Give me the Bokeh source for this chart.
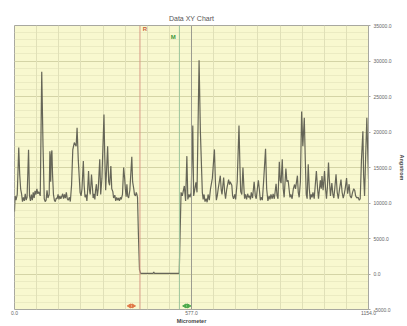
from bokeh.plotting import figure
from bokeh.models import (Range1d, FixedTicker, Grid, Span, BoxAnnotation,
                          CustomJSTickFormatter)
from bokeh.embed import file_html
from bokeh.resources import INLINE
from bokeh.core.properties import value

# Profile scan: lateral position (micrometer) vs. step height (angstrom)
position_um = [
    0, 2, 5, 9, 13.8, 17, 20, 23, 26, 29, 32, 35, 38, 41, 45.8, 49, 52, 55, 58, 61,
    64, 67, 70, 73, 76, 79, 84, 88.8, 93, 97, 100, 103, 106, 109, 113, 115.4, 118, 120, 122, 124,
    127, 130, 133, 136, 139, 142, 145, 148, 151, 154, 157, 160, 163, 166, 169, 172, 175, 179, 182, 186,
    190, 195, 201, 204, 208, 213.8, 217, 220, 224.4, 227, 230, 233, 236, 238, 241.4, 244, 246.8, 249, 251, 254,
    256.4, 259, 262, 264, 267, 270, 273, 277.9, 281, 285, 291.7, 294, 297.2, 300, 303.6, 307, 310, 314.1, 317, 320.6,
    323, 327, 330, 333, 336, 339, 342, 345, 348, 352, 355.8, 359, 361.3, 364, 366.4, 369, 372, 376, 382.4, 385,
    388.8, 391, 394.3, 397, 399, 401, 404, 407.5, 411, 452, 454, 456, 537, 540, 543, 547, 553.6, 557.8, 561.9, 565,
    569, 572, 576, 581.2, 584, 588, 591.4, 595, 601.7, 606, 612.3, 615, 618, 621, 625, 628, 631, 635,
    639, 645, 651.7, 655, 658, 661, 664, 670.9, 674, 676.4, 681.8, 685, 688, 692, 697.9, 701, 703, 708.4, 711, 714,
    718, 721, 726, 731.8, 735, 737.3, 741, 744.7, 748, 750, 753, 756.5, 760, 763, 766, 769, 772, 776, 781.2, 785,
    788, 795, 798, 801.4, 805, 808, 812, 818.4, 822, 826, 830, 833, 836, 840, 843, 847, 852.7, 856, 859, 863.3,
    866, 869, 872.9, 876, 879, 884.7, 888, 892, 895, 898, 901, 905, 909, 913, 916, 922.3, 925, 928, 932, 936,
    940, 944.7, 948, 951, 954, 957.5, 961, 964, 967, 970, 973, 977, 984.1, 988, 991, 997, 1000, 1002.4, 1006, 1010.7,
    1014, 1017, 1020, 1023.6, 1026, 1030, 1034.5, 1038, 1041, 1044, 1048.2, 1052, 1055.6, 1059, 1064.3, 1068, 1071.6, 1075, 1078, 1082.5,
    1086, 1090.8, 1094, 1098, 1102, 1105.9, 1109, 1112, 1116, 1120, 1124, 1127, 1131, 1135.7, 1138, 1141.2, 1145, 1148.6, 1151, 1154,
]
height_A = [
    8800, 11000, 10400, 11200, 17800, 14000, 12000, 11300, 10200, 10800, 10300, 11300, 10400, 10800, 17500, 11000, 10300, 11200, 10400, 11500,
    10700, 11700, 11200, 12000, 11300, 11600, 11000, 28500, 18000, 10600, 10200, 10400, 11800, 10700, 11200, 17300, 13000, 16800, 17400, 14000,
    11200, 10400, 10200, 10700, 10600, 11200, 10500, 11000, 10600, 10900, 11300, 10600, 11200, 10700, 11500, 10600, 10400, 10800, 10200, 12500,
    17500, 18500, 18000, 20600, 16000, 11500, 11000, 12000, 15900, 12500, 10800, 11200, 10300, 11500, 14500, 12000, 11200, 12500, 14000, 12200,
    10700, 11300, 10500, 11700, 12650, 11000, 12000, 16150, 11200, 13500, 22450, 17000, 11800, 14500, 18000, 13000, 12500, 15200, 12000, 11600,
    10700, 11100, 10300, 10800, 10400, 10700, 10300, 10800, 10500, 11200, 15000, 13500, 12000, 10900, 12650, 11000, 10700, 11800, 16500, 13000,
    12000, 11200, 11000, 11500, 11200, 10800, 5500, 600, 100, 100, 300, 100, 100, 6000, 11500, 11000, 12400, 10300, 16600, 10500,
    11200, 10800, 11500, 20900, 11000, 12000, 12900, 11500, 30100, 20000, 11500, 10500, 11200, 10200, 10600, 10100, 11200, 10400,
    12000, 13500, 17550, 13000, 10400, 11000, 12000, 13850, 11800, 11200, 13600, 11600, 10600, 12000, 13300, 12600, 13000, 12500, 11000, 10600,
    11200, 10500, 13000, 20900, 15000, 11600, 11200, 15000, 12000, 10600, 11200, 10500, 11300, 10800, 11000, 10500, 11500, 10700, 13000, 11000,
    10600, 13200, 12000, 10400, 10800, 10400, 13000, 17650, 12000, 10300, 11000, 10500, 11200, 10600, 11300, 10600, 12700, 11000, 10600, 15800,
    13200, 12800, 16150, 12000, 10800, 14850, 13000, 13200, 12000, 10800, 11200, 10600, 12000, 12600, 12000, 13850, 11500, 10800, 13000, 22900,
    18000, 22000, 16000, 11200, 10600, 15450, 12000, 10500, 11200, 10800, 11500, 10600, 14500, 12000, 10600, 13200, 12000, 13800, 11800, 14500,
    12000, 10600, 12200, 15700, 13500, 11000, 12800, 11200, 10700, 12000, 14050, 11500, 10600, 11800, 13300, 11500, 10700, 11300, 12000, 13500,
    11300, 12650, 11000, 10700, 11500, 12000, 11800, 11000, 10700, 10800, 10400, 10600, 16000, 20100, 14000, 11000, 17000, 22000, 18000, 13400,
]

# Axis extents and tick labels
x_min, x_max = 0.0, 1154.0
y_min, y_max = -5000.0, 35000.0
x_label_ticks = [0.0, 577.0, 1154.0]
y_label_ticks = [-5000, 0, 5000, 10000, 15000, 20000, 25000, 30000, 35000]
x_grid_divisions = 16

# Measurement cursors
cursor_r = 409.0
cursor_m = 537.6

p = figure(width=407, height=326, output_backend="svg", toolbar_location=None,
           x_range=Range1d(x_min, x_max), y_range=Range1d(y_min, y_max),
           x_axis_location="below", y_axis_location="right",
           title="Data XY Chart")
p.min_border_left = 14
p.min_border_right = 33
p.min_border_top = 25
p.min_border_bottom = 12
p.background_fill_color = "#f8f8cf"
p.border_fill_color = "white"
p.outline_line_color = "#a8a8a0"
p.outline_line_width = 1

p.title.align = "center"
p.title.text_font = "Liberation Sans"
p.title.text_font_size = "7px"
p.title.text_font_style = "normal"
p.title.text_color = "#555555"
p.title.standoff = 7

# Grid: faint 1000 Å rows, stronger 5000 Å rows, 16 column divisions
p.xgrid.visible = False
p.ygrid.ticker = FixedTicker(ticks=y_label_ticks,
                             minor_ticks=list(range(int(y_min), int(y_max) + 1, 1000)))
p.ygrid.grid_line_color = "#d4d4a6"
p.ygrid.grid_line_width = 1
p.ygrid.minor_grid_line_color = "#ebebc2"
p.ygrid.minor_grid_line_width = 1

col_step = (x_max - x_min) / x_grid_divisions
col_ticks = [x_min + i * col_step for i in range(x_grid_divisions + 1)]
p.add_layout(Grid(dimension=0, ticker=FixedTicker(ticks=col_ticks),
                  grid_line_color="#e0e0b8", grid_line_width=1))
p.add_layout(Span(location=x_label_ticks[1], dimension="height",
                  line_color="#9c9c90", line_width=1))

# Axes
xa = p.xaxis[0]
xa.ticker = FixedTicker(ticks=x_label_ticks)
xa.formatter = CustomJSTickFormatter(code="return tick.toFixed(1);")
xa.axis_label = "Micrometer"
xa.axis_label_text_font = "Liberation Sans"
xa.axis_label_text_font_size = "5.5px"
xa.axis_label_text_font_style = "bold"
xa.axis_label_standoff = 0
xa.major_label_text_font = "Liberation Sans"
xa.major_label_text_font_size = "5px"
xa.major_label_text_color = "#666666"
xa.major_label_standoff = 1
xa.axis_line_color = None
xa.major_tick_line_color = None
xa.minor_tick_line_color = None
xa.major_tick_out = 0
xa.major_tick_in = 0
xa.minor_tick_out = 0
xa.minor_tick_in = 0

ya = p.yaxis[0]
ya.ticker = FixedTicker(ticks=y_label_ticks)
ya.formatter = CustomJSTickFormatter(code="return tick.toFixed(1);")
ya.axis_label = "Angstrom"
ya.axis_label_text_font = "Liberation Sans"
ya.axis_label_text_font_size = "5.5px"
ya.axis_label_text_font_style = "bold"
ya.axis_label_standoff = 4
ya.major_label_text_font = "Liberation Sans"
ya.major_label_text_font_size = "5px"
ya.major_label_text_color = "#666666"
ya.major_label_standoff = 3
ya.axis_line_color = "#a8a8a0"
ya.major_tick_line_color = "#a8a8a0"
ya.major_tick_in = 0
ya.major_tick_out = 2
ya.minor_tick_line_color = None
ya.minor_tick_out = 0
ya.minor_tick_in = 0

# Cursor lines
p.add_layout(Span(location=cursor_r, dimension="height", line_color="#d89a86", line_width=1))
p.add_layout(Span(location=cursor_m, dimension="height", line_color="#9cc49c", line_width=1))

# Profile trace
p.line(position_um, height_A, line_color="#55554a", line_width=1.2, line_alpha=0.9)

# Cursor tags
p.text(x=[cursor_r + 16], y=[34450], text=["R"], text_color="#c8643c",
       text_font=value("Liberation Sans"), text_font_size="6px", text_font_style="bold",
       text_align="center", text_baseline="middle")
p.text(x=[cursor_m - 20], y=[33450], text=["M"], text_color="#3c963c",
       text_font=value("Liberation Sans"), text_font_size="6px", text_font_style="bold",
       text_align="center", text_baseline="middle")

# Cursor drag handles near the bottom edge
handle_y = -4500
for cx, col in ((cursor_r - 28, "#e07848"), (cursor_m + 24, "#4caa4c")):
    p.scatter(x=[cx - 6], y=[handle_y], marker="triangle", angle=1.5708, size=4,
              fill_color=col, line_color=col)
    p.scatter(x=[cx + 6], y=[handle_y], marker="triangle", angle=-1.5708, size=4,
              fill_color=col, line_color=col)
    p.scatter(x=[cx], y=[handle_y], marker="diamond", size=4,
              fill_color=None, line_color=col)

# Light panel border around the whole chart
p.add_layout(BoxAnnotation(left=5, right=420, top=10, bottom=340,
                           left_units="canvas", right_units="canvas",
                           top_units="canvas", bottom_units="canvas",
                           fill_alpha=0, line_color="#dcdcdc", line_width=1.5,
                           level="underlay"))

open("out.html", "w").write(file_html(p, INLINE))
